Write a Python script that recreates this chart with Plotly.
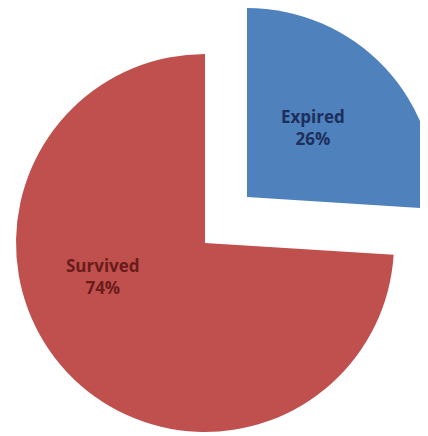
import plotly.graph_objects as go

labels = ["Expired", "Survived"]
values = [26, 74]
colors = ["#4F81BD", "#C0504D"]
text_colors = ["#1d2f5c", "#6a1c1a"]

total = sum(values)
label_text = [f"{lab}<br>{round(100 * v / total)}%" for lab, v in zip(labels, values)]

fig = go.Figure()

# Survived slice (Expired hidden)
fig.add_trace(go.Pie(
    labels=labels, values=values, sort=False, direction="clockwise", rotation=0,
    marker=dict(colors=["rgba(0,0,0,0)", colors[1]], line=dict(width=0)),
    textinfo="none",
    domain=dict(x=[0.0187, 0.9019], y=[0.0275, 0.8945]),
    showlegend=False, hoverinfo="skip",
))

# Expired slice (exploded)
fig.add_trace(go.Pie(
    labels=labels, values=values, sort=False, direction="clockwise", rotation=0,
    marker=dict(colors=[colors[0], "rgba(0,0,0,0)"], line=dict(width=0)),
    textinfo="none",
    domain=dict(x=[0.1168, 1.0], y=[0.133, 1.0]),
    showlegend=False, hoverinfo="skip",
))

label_pos = [(0.7126, 0.7248), (0.222, 0.385)]
for txt, (ax, ay), col in zip(label_text, label_pos, text_colors):
    fig.add_annotation(
        x=ax, y=ay, xref="paper", yref="paper", text=txt, showarrow=False,
        font=dict(family="Open Sans", size=17, color=col, weight="bold"),
        xanchor="center", yanchor="middle", align="center",
    )

fig.update_layout(
    width=428, height=436,
    margin=dict(l=0, r=0, t=0, b=0),
    paper_bgcolor="white", plot_bgcolor="white",
    showlegend=False,
)

fig.write_html("out.html")
